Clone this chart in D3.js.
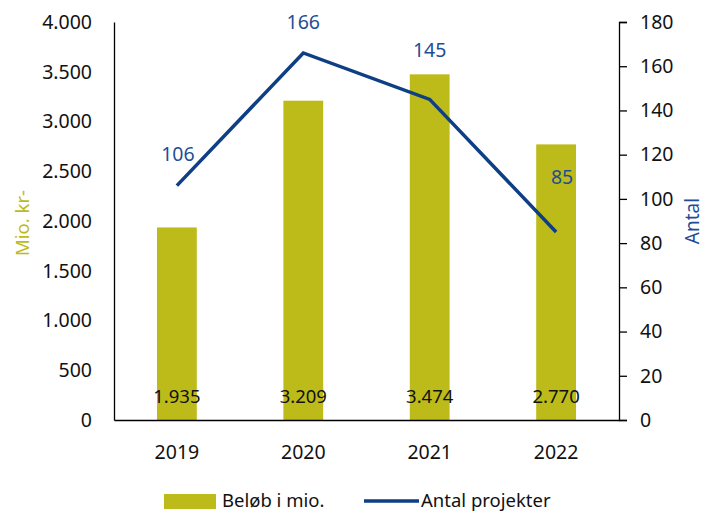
<!DOCTYPE html>
<html>
<head>
<meta charset="utf-8">
<script src="https://cdn.jsdelivr.net/npm/d3@7"></script>
<style>
  html, body { margin: 0; padding: 0; background: #fff; }
  svg text { font-family: "Noto Sans", "Open Sans", sans-serif; }
</style>
</head>
<body>
<div id="chart"></div>
<script>
// Beløb (mio. kr.) som søjler, antal projekter som linje på højre akse.
const years = ['2019', '2020', '2021', '2022'];
const amounts = [1935, 3209, 3474, 2770];
const projects = [106, 166, 145, 85];
const leftTicks = [0, 500, 1000, 1500, 2000, 2500, 3000, 3500, 4000];
const rightTicks = [0, 20, 40, 60, 80, 100, 120, 140, 160, 180];

// manuelle label-forskydninger for linjens datalabels (som i originalen)
const lineLabelDy = [-31, -31, -49, -55];
const lineLabelDx = [1, 0, 0, 6];

const OLIVE = '#bdbb1a';
const BLUE = '#0e3e84';
const BLUE_TEXT = '#1f4e96';
const FS = 19.5;

const W = 705, H = 517;
const m = { top: 22, right: 86, bottom: 97, left: 114 };
const innerW = W - m.left - m.right;
const innerH = H - m.top - m.bottom;

const fmt = v => d3.format(',')(v).replace(/,/g, '.');

const svg = d3.select('#chart').append('svg')
  .attr('width', W).attr('height', H);
const g = svg.append('g').attr('transform', `translate(${m.left},${m.top})`);

const x = d3.scaleBand().domain(years).range([0, innerW]).paddingInner(0.685).paddingOuter(0.34);
const yL = d3.scaleLinear().domain([0, 4000]).range([innerH, 0]);
const yR = d3.scaleLinear().domain([0, 180]).range([innerH, 0]);
const cx = d => x(d) + x.bandwidth() / 2;

// søjler
g.selectAll('rect.bar').data(years).join('rect')
  .attr('class', 'bar')
  .attr('x', d => x(d))
  .attr('width', x.bandwidth())
  .attr('y', (d, i) => yL(amounts[i]))
  .attr('height', (d, i) => innerH - yL(amounts[i]))
  .attr('fill', OLIVE);

// søjle-labels nede ved bunden
g.selectAll('text.barlab').data(years).join('text')
  .attr('class', 'barlab')
  .attr('x', d => cx(d))
  .attr('y', yL(0) - 17)
  .attr('text-anchor', 'middle')
  .attr('font-size', 18.5)
  .attr('fill', '#111')
  .text((d, i) => fmt(amounts[i]));

// venstre akse (uden tick-streger)
const axL = g.append('g').call(d3.axisLeft(yL).tickValues(leftTicks).tickSize(0).tickPadding(22).tickFormat(fmt));
axL.select('.domain').attr('stroke', '#000').attr('stroke-width', 1.3);
axL.selectAll('text').attr('font-size', FS).attr('fill', '#111').attr('font-family', '"Noto Sans", sans-serif');

// højre akse
const axR = g.append('g').attr('transform', `translate(${innerW},0)`)
  .call(d3.axisRight(yR).tickValues(rightTicks).tickSize(8).tickSizeOuter(8).tickPadding(13));
axR.select('.domain').attr('stroke', '#000').attr('stroke-width', 1.3);
axR.selectAll('line').attr('stroke', '#000').attr('stroke-width', 1.3);
axR.selectAll('text').attr('font-size', FS).attr('fill', '#111').attr('font-family', '"Noto Sans", sans-serif');

// x-akse
const axX = g.append('g').attr('transform', `translate(0,${innerH})`)
  .call(d3.axisBottom(x).tickSize(0).tickPadding(25));
axX.select('.domain').attr('stroke', '#000').attr('stroke-width', 1.3);
axX.selectAll('text').attr('font-size', FS).attr('fill', '#111').attr('font-family', '"Noto Sans", sans-serif');

// linje
const line = d3.line().x((d, i) => cx(years[i])).y(d => yR(d));
g.append('path').datum(projects)
  .attr('d', line)
  .attr('fill', 'none')
  .attr('stroke', BLUE)
  .attr('stroke-width', 3.5);

g.selectAll('text.linelab').data(projects).join('text')
  .attr('class', 'linelab')
  .attr('x', (d, i) => cx(years[i]) + lineLabelDx[i])
  .attr('y', (d, i) => yR(d) + lineLabelDy[i])
  .attr('dy', '0.35em')
  .attr('text-anchor', 'middle')
  .attr('font-size', FS)
  .attr('fill', BLUE_TEXT)
  .text(d => d);

// aksetitler
svg.append('text')
  .attr('transform', `translate(29,${m.top + innerH / 2 + 2}) rotate(-90)`)
  .attr('text-anchor', 'middle')
  .attr('font-size', 18.5)
  .attr('fill', OLIVE)
  .text('Mio. kr-');

svg.append('text')
  .attr('transform', `translate(699,${m.top + innerH / 2}) rotate(-90)`)
  .attr('text-anchor', 'middle')
  .attr('font-size', 19)
  .attr('fill', BLUE_TEXT)
  .text('Antal');

// legende
const leg = svg.append('g').attr('transform', 'translate(0,501)');
leg.append('rect').attr('x', 164).attr('y', -7).attr('width', 52).attr('height', 15).attr('fill', OLIVE);
leg.append('text').attr('x', 222).attr('y', 0).attr('dy', '0.35em')
  .attr('font-size', 18.5).attr('fill', '#111').text('Beløb i mio.');
leg.append('line').attr('x1', 364).attr('x2', 419).attr('y1', 0).attr('y2', 0)
  .attr('stroke', BLUE).attr('stroke-width', 3.5);
leg.append('text').attr('x', 421).attr('y', 0).attr('dy', '0.35em')
  .attr('font-size', 18.5).attr('fill', '#111').text('Antal projekter');
</script>
</body>
</html>
